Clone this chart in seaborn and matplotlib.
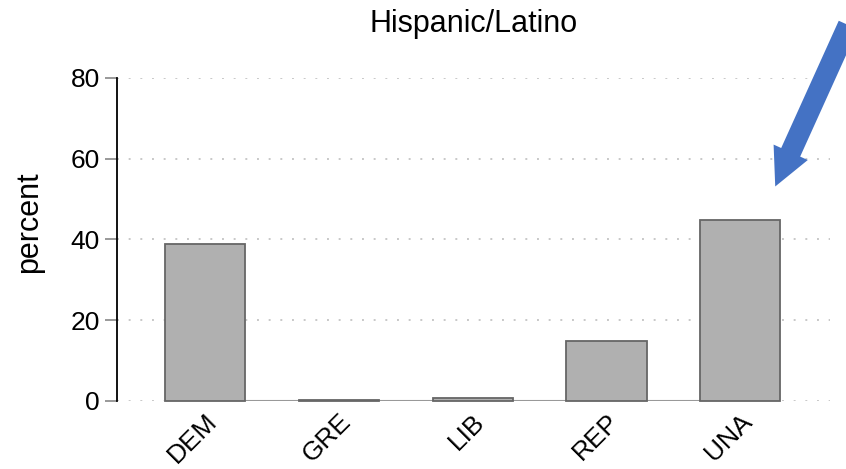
import numpy as np
import pandas as pd
import matplotlib
matplotlib.use("Agg")
import matplotlib.pyplot as plt
import seaborn as sns

# data
parties = ["DEM", "GRE", "LIB", "REP", "UNA"]
percent = [38.8, 0.3, 0.8, 14.9, 44.9]
y_ticks = [0, 20, 40, 60, 80]

sns.set_theme(style="white")
plt.rcParams["font.family"] = ["Liberation Sans", "DejaVu Sans"]
plt.rcParams["text.color"] = "black"
plt.rcParams["xtick.color"] = "black"
plt.rcParams["ytick.color"] = "black"
plt.rcParams["axes.labelcolor"] = "black"

df = pd.DataFrame({"party": parties, "percent": percent})

fig = plt.figure(figsize=(8.46, 4.69), dpi=100)
ax = fig.add_axes([0.138, 0.145, 0.843, 0.689])

sns.barplot(data=df, x="party", y="percent", color="#b0b0b0", saturation=1,
            width=0.6, edgecolor="#666666", linewidth=1.3, ax=ax, zorder=3)

# gray baseline spanning the category centres
ax.hlines(0, 0, len(parties) - 1, color="#999999", lw=1.5, zorder=2)

ax.set_ylim(0, 80)
ax.set_xlim(-0.66, len(parties) - 1 + 0.67)
ax.set_yticks(y_ticks)
ax.yaxis.grid(True, color="#c8c8c8", linestyle=(0, (1, 5)), linewidth=1.4)
ax.set_axisbelow(True)

for side in ["top", "right", "bottom"]:
    ax.spines[side].set_visible(False)
ax.spines["left"].set_color("black")
ax.spines["left"].set_linewidth(1.3)

ax.tick_params(axis="y", length=9, width=1.2, color="#888888", labelcolor="black",
               labelsize=19, pad=3, left=True)
ax.tick_params(axis="x", length=0, labelsize=19, labelcolor="black", pad=6)
plt.setp(ax.get_xticklabels(), rotation=45, ha="right", rotation_mode="anchor")

ax.set_xlabel("")
ax.set_ylabel("percent", fontsize=22)
ax.yaxis.set_label_coords(-0.102, 0.554)
ax.set_title("Hispanic/Latino", fontsize=22, pad=33)

for p in ax.patches:
    p.set_clip_on(False)

# blue call-out arrow pointing at UNA
ax.annotate("", xy=(0.915, 0.597), xycoords="figure fraction",
            xytext=(1.004, 0.952), textcoords="figure fraction",
            arrowprops=dict(arrowstyle="simple,head_width=2.7,head_length=2.7,tail_width=1.5",
                            mutation_scale=10, color="#4472C4", lw=0),
            annotation_clip=False)

fig.savefig("out.png", dpi=100)
